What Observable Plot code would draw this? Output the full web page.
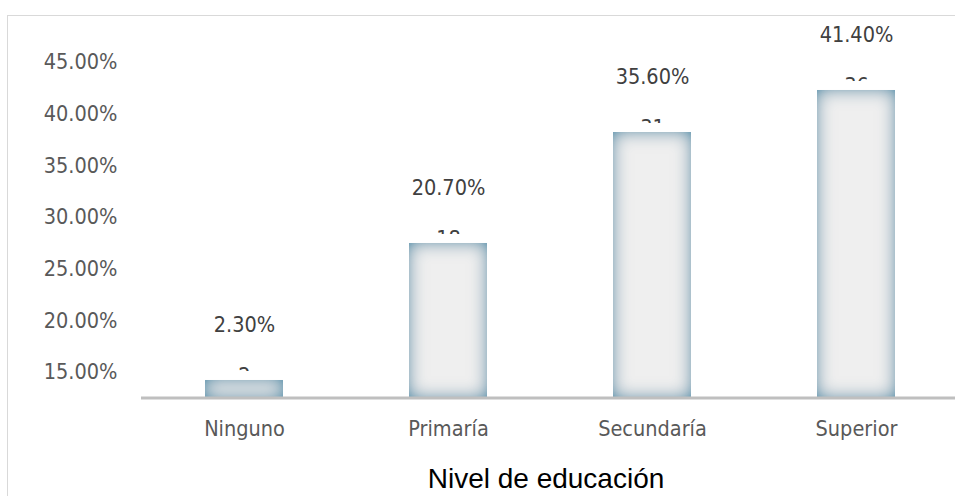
<!DOCTYPE html>
<html>
<head>
<meta charset="utf-8">
<script src="https://cdn.jsdelivr.net/npm/d3@7"></script>
<script src="https://cdn.jsdelivr.net/npm/@observablehq/plot@0.6"></script>
<style>
  html, body { margin: 0; padding: 0; background: #fff; overflow: hidden; }
  #wrap { position: relative; width: 955px; height: 496px; }
  #frame { position: absolute; left: 7px; top: 15px; width: 1000px; height: 600px; border: 1.5px solid #d9d9d9; box-sizing: border-box; }
  #chart { position: absolute; left: 0; top: 0; }
</style>
</head>
<body>
<div id="wrap"><div id="frame"></div><div id="chart"></div></div>
<script>
const categories = ["Ninguno", "Primaría", "Secundaría", "Superior"];
const barHeights = [14.23, 27.49, 38.23, 42.3];
const percents = [2.3, 20.7, 35.6, 41.4];
const counts = [2, 18, 31, 36];
const yTicks = [15, 20, 25, 30, 35, 40, 45];
const axisTitle = "Nivel de educación";

const data = categories.map((c, i) => ({cat: c, h: barHeights[i], pct: percents[i], n: counts[i]}));
const font = "'DejaVu Sans Condensed', 'DejaVu Sans', sans-serif";

const chart = Plot.plot({
  width: 955,
  height: 496,
  marginLeft: 141,
  marginRight: -3,
  marginTop: 10.33,
  marginBottom: 98.5,
  style: {background: "transparent", overflow: "visible"},
  x: {domain: categories, paddingInner: 0.62, paddingOuter: 0.31},
  y: {domain: [12.53, 50]},
  marks: [
    Plot.axisY(yTicks, {tickSize: 0, tickPadding: 24, tickFormat: d => d.toFixed(2) + "%", fontSize: 21.5, fontFamily: font, fill: "#595959", label: null}),
    Plot.axisX({tickSize: 0, tickPadding: 22.5, fontSize: 21.5, fontFamily: font, fill: "#595959", label: null}),
    Plot.text(data, {x: "cat", y: "h", text: d => String(d.n), dy: -4, fontSize: 21.5, fontFamily: font, fill: "#404040"}),
    Plot.tickY(data, {x: "cat", y: "h", stroke: "#ffffff", strokeWidth: 19}),
    Plot.barY(data, {x: "cat", y1: 12.53, y2: "h", fill: "#efefef", className: "glowbars"}),
    Plot.ruleY([12.53], {stroke: "#bfbfbf", strokeWidth: 3}),
    Plot.text(data, {x: "cat", y: "h", text: d => d.pct.toFixed(2) + "%", dy: -55, fontSize: 21.5, fontFamily: font, fill: "#404040"}),
    Plot.text([axisTitle], {frameAnchor: "bottom", dy: 90, dx: -4, fontSize: 28, fontFamily: "'Liberation Sans', Arial, sans-serif", fill: "#000000"})
  ]
});

const svg = d3.select(chart);
const defs = svg.insert("defs", ":first-child");
const f = defs.append("filter").attr("id", "innerGlow")
  .attr("filterUnits", "userSpaceOnUse")
  .attr("x", 0).attr("y", 0).attr("width", 955).attr("height", 496);
f.append("feGaussianBlur").attr("in", "SourceAlpha").attr("stdDeviation", 9).attr("result", "blur");
f.append("feComposite").attr("in", "SourceAlpha").attr("in2", "blur").attr("operator", "arithmetic")
  .attr("k1", 0).attr("k2", 1.4).attr("k3", -1.4).attr("k4", 0).attr("result", "edge");
f.append("feFlood").attr("flood-color", "#7ba5b9").attr("result", "col");
f.append("feComposite").attr("in", "col").attr("in2", "edge").attr("operator", "in").attr("result", "glow");
const m = f.append("feMerge");
m.append("feMergeNode").attr("in", "SourceGraphic");
m.append("feMergeNode").attr("in", "glow");
svg.selectAll(".glowbars rect").attr("filter", "url(#innerGlow)");

document.getElementById("chart").appendChild(chart);
</script>
</body>
</html>
